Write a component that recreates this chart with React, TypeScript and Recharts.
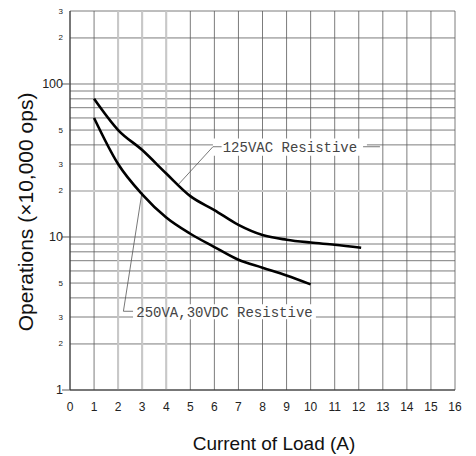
import {
  LineChart,
  Line,
  XAxis,
  YAxis,
  CartesianGrid,
  ReferenceLine,
  ReferenceArea,
  Label,
} from 'recharts';

const xTicks = [0, 1, 2, 3, 4, 5, 6, 7, 8, 9, 10, 11, 12, 13, 14, 15, 16];
const yTicks = [1, 2, 3, 4, 5, 6, 7, 8, 9, 10, 20, 30, 40, 50, 60, 70, 80, 90, 100, 200, 300];
const yLabelValues = [1, 2, 3, 5, 10, 20, 30, 50, 100, 200, 300];
const yLabelTexts = ['1', '2', '3', '5', '10', '2', '3', '5', '100', '2', '3'];
const yMajor = [1, 10, 100];

// 125VAC resistive
const loadAC = [1, 2, 3, 4, 5, 6, 7, 8, 9, 10, 11, 12.1];
const opsAC = [80, 50, 37, 26, 18.5, 15, 12, 10.3, 9.6, 9.2, 8.9, 8.5];

// 250VA, 30VDC resistive
const loadDC = [1, 2, 3, 4, 5, 6, 7, 8, 9, 10];
const opsDC = [60, 30, 19, 13.4, 10.5, 8.6, 7.1, 6.3, 5.6, 4.9];

const acData = loadAC.map((x, i) => ({ x, y: opsAC[i] }));
const dcData = loadDC.map((x, i) => ({ x, y: opsDC[i] }));

const sans = '"Liberation Sans", Arial, sans-serif';
const mono = '"Liberation Mono", monospace';
const gridColor = '#5a5a5a';
const leader = '#555';
const AXIS_X = 70;

const YTick = (props: any) => {
  const { y, payload } = props;
  const v = payload.value;
  const idx = yLabelValues.indexOf(v);
  if (idx < 0) return null;
  const major = yMajor.includes(v);
  return (
    <g>
      {major && <line x1={AXIS_X - 8} x2={AXIS_X} y1={y} y2={y} stroke={gridColor} />}
      <text
        x={63}
        y={y}
        textAnchor="end"
        dominantBaseline="central"
        fontFamily={sans}
        fontSize={major ? 12.5 : 8}
        fill="#222"
      >
        {yLabelTexts[idx]}
      </text>
    </g>
  );
};

const App = () => {
  return (
    <div style={{ position: 'absolute', left: 0, top: 0, width: 476, height: 456, background: '#fff' }}>
      <LineChart width={476} height={456} margin={{ top: 11, right: 21, left: 0, bottom: 0 }}>
        <CartesianGrid stroke={gridColor} strokeWidth={0.8} />
        <XAxis
          dataKey="x"
          type="number"
          domain={[0, 16]}
          ticks={xTicks}
          interval={0}
          height={66}
          tickLine={false}
          tickMargin={6}
          axisLine={{ stroke: '#333' }}
          tick={{ fontFamily: sans, fontSize: 12, fill: '#222' }}
        >
          <Label
            content={() => (
              <text x={274} y={450} textAnchor="middle" fontFamily={sans} fontSize={19} fill="#111">
                Current of Load (A)
              </text>
            )}
          />
        </XAxis>
        <YAxis
          type="number"
          scale="log"
          domain={[1, 300]}
          ticks={yTicks}
          interval={0}
          allowDataOverflow
          width={70}
          tickLine={false}
          axisLine={{ stroke: '#333' }}
          tick={<YTick />}
        >
          <Label
            content={() => (
              <text
                x={33}
                y={212}
                transform="rotate(-90, 33, 212)"
                textAnchor="middle"
                fontFamily={sans}
                fontSize={21}
                fill="#111"
              >
                Operations (×10,000 ops)
              </text>
            )}
          />
        </YAxis>

        <ReferenceLine x={2} stroke="#c8c8c8" strokeWidth={2} />
        <ReferenceLine x={3} stroke="#c8c8c8" strokeWidth={2} />
        <ReferenceLine x={4} stroke="#c8c8c8" strokeWidth={2} />
        <ReferenceLine y={20} stroke="#c8c8c8" strokeWidth={2} />

        <ReferenceArea
          x1={5.94}
          x2={12.34}
          y1={34}
          y2={44}
          fill="#fff"
          fillOpacity={1}
          stroke="none"
          label={{ value: '125VAC Resistive', position: 'center', fill: '#444', fontSize: 14, fontFamily: mono }}
        />
        <ReferenceArea
          x1={2.62}
          x2={10.22}
          y1={2.9}
          y2={3.64}
          fill="#fff"
          fillOpacity={1}
          stroke="none"
          label={{ value: '250VA,30VDC Resistive', position: 'center', fill: '#444', fontSize: 14, fontFamily: mono }}
        />

        <ReferenceLine segment={[{ x: 4.5, y: 22 }, { x: 5.94, y: 38.9 }]} stroke={leader} strokeWidth={0.8} />
        <ReferenceLine segment={[{ x: 5.94, y: 38.9 }, { x: 6.3, y: 38.9 }]} stroke={leader} strokeWidth={0.8} />
        <ReferenceLine segment={[{ x: 12.18, y: 38.9 }, { x: 12.88, y: 38.9 }]} stroke={leader} strokeWidth={0.8} />
        <ReferenceLine segment={[{ x: 2.98, y: 19.1 }, { x: 2.22, y: 3.27 }]} stroke={leader} strokeWidth={0.8} />
        <ReferenceLine segment={[{ x: 2.22, y: 3.27 }, { x: 2.62, y: 3.27 }]} stroke={leader} strokeWidth={0.8} />

        <Line
          data={acData}
          dataKey="y"
          type="monotone"
          stroke="#000"
          strokeWidth={2.6}
          dot={false}
          isAnimationActive={false}
        />
        <Line
          data={dcData}
          dataKey="y"
          type="monotone"
          stroke="#000"
          strokeWidth={2.6}
          dot={false}
          isAnimationActive={false}
        />
      </LineChart>
    </div>
  );
};

export default App;
